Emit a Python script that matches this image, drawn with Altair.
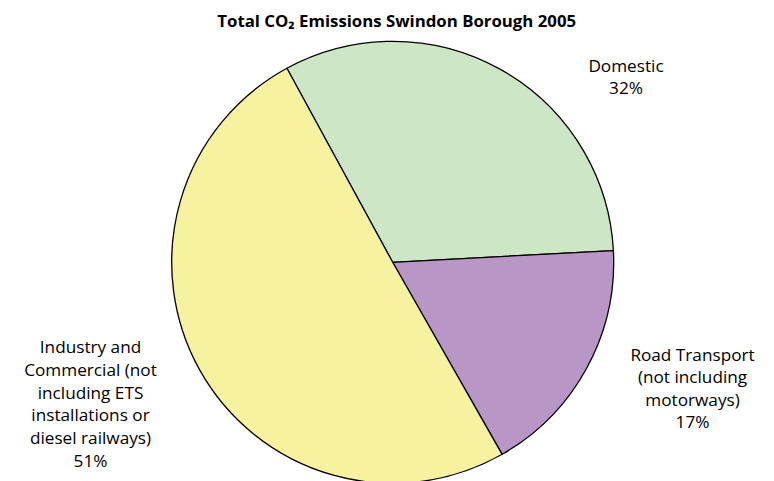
import math
import altair as alt
import pandas as pd

# Data
categories = ["Domestic", "Road Transport (not including motorways)",
              "Industry and Commercial (not including ETS installations or diesel railways)"]
shares = [32.1, 17.6, 50.3]
slice_order = [0, 1, 2]
label_domestic = ["Domestic", "32%"]
label_road = ["Road Transport", "(not including", "motorways)", "17%"]
label_industry = ["Industry and", "Commercial (not", "including ETS", "installations or",
                  "diesel railways)", "51%"]
title_text = "Total CO\u2082 Emissions Swindon Borough 2005"

colors = ["#cde6c5", "#b897c7", "#f7f29f"]

df = pd.DataFrame({"category": categories, "share": shares, "order": slice_order})

start = math.radians(-28.6)
FONT = "Open Sans"

pie = alt.Chart(df).mark_arc(
    x=384.7, y=254.3, radius=221, stroke="black", strokeWidth=1.3
).encode(
    theta=alt.Theta("share:Q", stack=True,
                    scale=alt.Scale(range=[start, start + 2 * math.pi])),
    order=alt.Order("order:Q"),
    color=alt.Color("category:N", scale=alt.Scale(domain=categories, range=colors),
                    legend=None),
)


def label(lines, x, y, lh, size=17.2, weight="normal"):
    return alt.Chart(pd.DataFrame({"t": ["\n".join(lines)]})).mark_text(
        font=FONT, fontSize=size, fontWeight=weight, align="center",
        baseline="alphabetic", lineBreak="\n", lineHeight=lh, color="black"
    ).encode(text="t:N", x=alt.value(x), y=alt.value(y))


title = label([title_text], 388.7, 18.5, 20, size=16.8, weight="bold")
l_dom = label(label_domestic, 618, 64.3, 21.7)
l_road = label(label_road, 684.5, 352.7, 22.5)
l_ind = label(label_industry, 82.5, 345, 22.8)

chart = alt.layer(pie, title, l_dom, l_road, l_ind).properties(
    width=758, height=473, autosize=alt.AutoSizeParams(type="none"), padding=0
).configure_view(stroke=None)

chart.save("out.html", embed_options={"renderer": "svg", "actions": False})
